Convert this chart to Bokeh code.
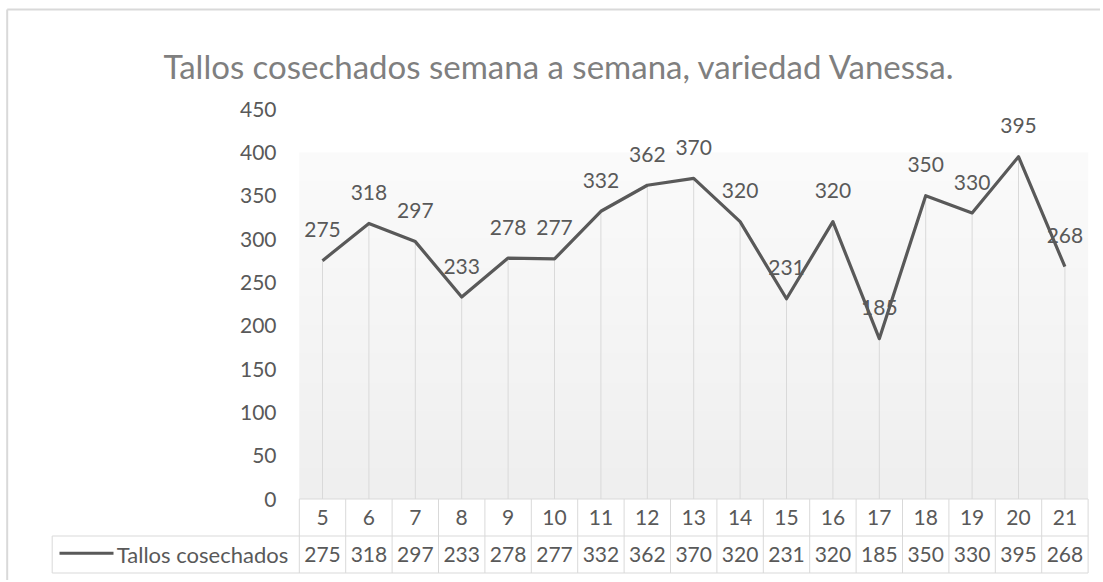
import numpy as np
from bokeh.plotting import figure
from bokeh.models import Range1d, ColumnDataSource
from bokeh.core.properties import value
from bokeh.embed import file_html
from bokeh.resources import INLINE

# ---------------- data ----------------
title_text = "Tallos cosechados semana a semana, variedad Vanessa."
series_name = "Tallos cosechados"
weeks = [5, 6, 7, 8, 9, 10, 11, 12, 13, 14, 15, 16, 17, 18, 19, 20, 21]
stems = [275, 318, 297, 233, 278, 277, 332, 362, 370, 320, 231, 320, 185, 350, 330, 395, 268]
y_ticks = [0, 50, 100, 150, 200, 250, 300, 350, 400, 450]

# ---------------- geometry (pixel -> data helpers) ----------------
W, H = 1100, 580
OFF = 0                # page offset of the figure
PX_X = 46.4            # pixels per category
PX_Y = 390.0 / 450.0   # pixels per unit of value
PAGE_LEFT_PLOT = 298.8 # page x of plot-area left edge
PAGE_ZERO = 498.5      # page y of value 0

x0 = -0.5 - (PAGE_LEFT_PLOT - OFF) / PX_X
x1 = x0 + W / PX_X
y1 = (PAGE_ZERO - OFF) / PX_Y
y0 = y1 - H / PX_Y

def px_x(page_x):
    return -0.5 + (page_x - PAGE_LEFT_PLOT) / PX_X

def px_y(page_y):
    return (PAGE_ZERO - page_y) / PX_Y

FONT = value("Lato")
TXT = "#595959"
GRID = "#d9d9d9"

n = len(weeks)
idx = list(range(n))

p = figure(width=W, height=H, x_range=Range1d(x0, x1), y_range=Range1d(y0, y1),
           x_axis_location=None, y_axis_location=None, toolbar_location=None,
           output_backend="svg", min_border=0)
p.grid.visible = False
p.outline_line_color = None
p.background_fill_color = "white"
p.border_fill_color = "white"

# chart border (top + left)
p.segment(x0=[px_x(6.7), px_x(6.7)], y0=[px_y(9), px_y(9)], x1=[x1, px_x(6.7)], y1=[px_y(9), y0],
          line_color=GRID, line_width=2)

# plot-area gradient background
N = 256
img = np.empty((N, 1), dtype=np.uint32)
view = img.view(dtype=np.uint8).reshape((N, 1, 4))
shade = np.linspace(239, 251, N).astype(np.uint8)
view[:, 0, 0] = shade
view[:, 0, 1] = shade
view[:, 0, 2] = shade
view[:, 0, 3] = 255
p.image_rgba(image=[img], x=-0.5, y=0, dw=n, dh=px_y(152))

src = ColumnDataSource(dict(x=idx, y=stems, lab=[str(v) for v in stems],
                            wk=[str(w) for w in weeks], zero=[0] * n))

# drop lines
p.segment(x0="x", y0="zero", x1="x", y1="y", source=src, line_color=GRID, line_width=1)

# series line
p.line(x="x", y="y", source=src, line_color=TXT, line_width=3.2, line_join="round")

# data labels
p.text(x="x", y="y", text="lab", source=src, y_offset=-31, text_font=FONT,
       text_font_size="21px", text_color=TXT, text_align="center", text_baseline="middle")

# y tick labels
p.text(x=[px_x(276)] * len(y_ticks), y=y_ticks, text=[str(t) for t in y_ticks],
       text_font=FONT, text_font_size="21px", text_color=TXT,
       text_align="right", text_baseline="middle")

# title
p.text(x=[px_x(559)], y=[px_y(65)], text=[title_text], text_font=FONT,
       text_font_size="33px", text_color="#7f7f7f", text_align="center",
       text_baseline="alphabetic")

# ---------------- data table ----------------
row1_bot = px_y(535.5)
row2_bot = px_y(572.5)
left_cell = px_x(51.7)
right_edge = -0.5 + n
# horizontal lines
p.segment(x0=[-0.5, left_cell, left_cell], y0=[0, row1_bot, row2_bot],
          x1=[right_edge, right_edge, right_edge], y1=[0, row1_bot, row2_bot],
          line_color=GRID, line_width=1)
# vertical lines
bounds = [i - 0.5 for i in range(n + 1)]
p.segment(x0=bounds, y0=[0] * len(bounds), x1=bounds, y1=[row2_bot] * len(bounds),
          line_color=GRID, line_width=1)
p.segment(x0=[left_cell], y0=[row1_bot], x1=[left_cell], y1=[row2_bot],
          line_color=GRID, line_width=1)

hdr_mid = (0 + row1_bot) / 2
dat_mid = (row1_bot + row2_bot) / 2
p.text(x="x", y=hdr_mid, text="wk", source=src, text_font=FONT, text_font_size="21px",
       text_color=TXT, text_align="center", text_baseline="middle")
p.text(x="x", y=dat_mid, text="lab", source=src, text_font=FONT, text_font_size="21px",
       text_color=TXT, text_align="center", text_baseline="middle")

# legend key + name
p.segment(x0=[px_x(59)], y0=[px_y(552.7)], x1=[px_x(113)], y1=[px_y(552.7)],
          line_color=TXT, line_width=3)
p.text(x=[px_x(202)], y=[dat_mid], text=[series_name], text_font=FONT,
       text_font_size="22px", text_color=TXT, text_align="center", text_baseline="middle")

open("out.html", "w").write(file_html(p, INLINE))
